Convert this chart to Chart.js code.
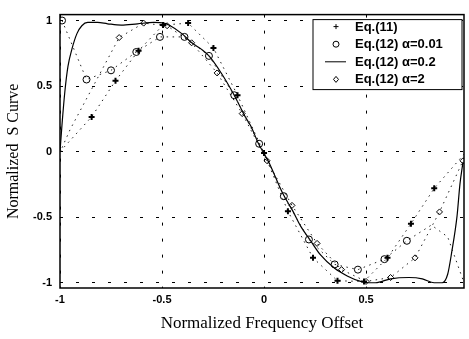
<!DOCTYPE html>
<html>
<head>
<meta charset="utf-8">
<script src="https://cdn.jsdelivr.net/npm/chart.js@4.4.1/dist/chart.umd.min.js"></script>
<style>
    html, body { margin: 0; padding: 0; background: #fff; }
    #wrap { width: 469px; height: 339px; position: relative; }
</style>
</head>
<body>
<div id="wrap"><canvas id="sCurveChart" width="469" height="339"></canvas></div>
<script>
// Eq.(11) - star markers
const eq11X = [-1, -0.845, -0.728, -0.615, -0.495, -0.372, -0.248, -0.13, 0, 0.117, 0.24, 0.36, 0.49, 0.605, 0.72, 0.834, 0.98];
const eq11Y = [0.0, 0.265, 0.54, 0.77, 0.965, 0.98, 0.79, 0.43, -0.01, -0.455, -0.81, -0.985, -0.99, -0.81, -0.55, -0.28, -0.02];

// Eq.(12) alpha = 0.01 - circles
const a001X = [-0.99, -0.87, -0.75, -0.626, -0.51, -0.39, -0.27, -0.146, -0.024, 0.097, 0.22, 0.346, 0.46, 0.59, 0.70, 0.82, 0.90, 0.98];
const a001Y = [1.0, 0.55, 0.62, 0.76, 0.875, 0.875, 0.73, 0.43, 0.06, -0.34, -0.67, -0.86, -0.90, -0.82, -0.68, -0.56, -0.65, -1.0];

// Eq.(12) alpha = 0.2 - solid curve
const a02X = [-1, -0.99, -0.976, -0.961, -0.942, -0.917, -0.893, -0.864, -0.816, -0.767, -0.70, -0.62, -0.54, -0.49, -0.466, -0.403, -0.354, -0.306, -0.27, -0.21, -0.146, -0.092, -0.063, -0.03, 0, 0.02, 0.092, 0.14, 0.18, 0.224, 0.278, 0.346, 0.41, 0.473, 0.51, 0.546, 0.62, 0.71, 0.776, 0.834, 0.873, 0.90, 0.92, 0.946, 0.96, 0.975];
const a02Y = [0.0, 0.21, 0.46, 0.65, 0.78, 0.90, 0.96, 0.985, 0.985, 0.975, 0.965, 0.975, 0.985, 0.98, 0.965, 0.90, 0.83, 0.78, 0.73, 0.60, 0.43, 0.265, 0.19, 0.07, -0.015, -0.07, -0.32, -0.45, -0.57, -0.67, -0.79, -0.89, -0.95, -0.99, -1.0, -1.0, -0.97, -0.96, -0.97, -1.0, -1.0, -0.935, -0.765, -0.49, -0.25, -0.08];

// Eq.(12) alpha = 2 - diamonds
const a2X = [-0.99, -0.95, -0.83, -0.71, -0.59, -0.475, -0.355, -0.23, -0.107, 0.015, 0.137, 0.26, 0.38, 0.50, 0.62, 0.74, 0.86, 0.975];
const a2Y = [0.03, 0.17, 0.52, 0.87, 0.98, 0.96, 0.83, 0.60, 0.29, -0.07, -0.41, -0.70, -0.90, -0.99, -0.96, -0.81, -0.46, -0.07];

const xTicks = [-1, -0.5, 0, 0.5];
const yTicks = [-1, -0.5, 0, 0.5, 1];

const legendLabels = ['Eq.(11)', 'Eq.(12) \u03b1=0.01', 'Eq.(12) \u03b1=0.2', 'Eq.(12) \u03b1=2'];

document.addEventListener('DOMContentLoaded', function() {

    function toPoints(xs, ys) {
        return xs.map((x, i) => ({ x: x, y: ys[i] }));
    }

    // plot frame on all four sides
    const framePlugin = {
        id: 'frame',
        afterDraw(chart) {
            const { ctx, chartArea: a } = chart;
            ctx.save();
            ctx.strokeStyle = '#000';
            ctx.lineWidth = 1.5;
            ctx.strokeRect(a.left, a.top, a.right - a.left, a.bottom - a.top);
            ctx.restore();
        }
    };

    // boxed legend in the upper right corner of the plot
    const boxLegendPlugin = {
        id: 'boxLegend',
        afterDraw(chart) {
            const { ctx, chartArea: a } = chart;
            const left = a.right - 151;
            const top = a.top + 5;
            const w = 149, h = 70;
            ctx.save();
            ctx.fillStyle = '#fff';
            ctx.fillRect(left, top, w, h);
            ctx.strokeStyle = '#000';
            ctx.lineWidth = 1;
            ctx.strokeRect(left, top, w, h);

            const mx = left + 23;
            ctx.font = 'bold 13px "Liberation Sans", Arial, sans-serif';
            ctx.textBaseline = 'middle';
            legendLabels.forEach((label, i) => {
                const cy = top + 7 + i * 17.6;
                ctx.strokeStyle = '#000';
                ctx.fillStyle = '#000';
                ctx.lineWidth = 1;
                if (i === 0) {
                    Chart.helpers.drawPoint(ctx, { pointStyle: 'cross', radius: 2.5, borderWidth: 2 }, mx, cy);
                } else if (i === 1) {
                    ctx.beginPath();
                    ctx.arc(mx, cy, 3, 0, Math.PI * 2);
                    ctx.stroke();
                } else if (i === 2) {
                    ctx.beginPath();
                    ctx.moveTo(mx - 11, cy);
                    ctx.lineTo(mx + 10, cy);
                    ctx.stroke();
                } else {
                    ctx.beginPath();
                    ctx.moveTo(mx, cy - 3);
                    ctx.lineTo(mx + 2.5, cy);
                    ctx.lineTo(mx, cy + 3);
                    ctx.lineTo(mx - 2.5, cy);
                    ctx.closePath();
                    ctx.stroke();
                }
                ctx.fillStyle = '#000';
                ctx.fillText(label, left + 42, cy + 0.5);
            });
            ctx.restore();
        }
    };

    initSCurveChart();

    function initSCurveChart() {
        const ctx = document.getElementById('sCurveChart').getContext('2d');

        if (typeof Chart === 'undefined') return;

        const dotted = [1.5, 4.5];

        new Chart(ctx, {
            type: 'scatter',
            data: {
                datasets: [
                    {
                        label: legendLabels[0],
                        data: toPoints(eq11X, eq11Y),
                        showLine: true,
                        borderColor: '#222',
                        backgroundColor: '#000',
                        borderWidth: 1,
                        borderDash: dotted,
                        pointStyle: 'cross',
                        pointRadius: eq11X.map((x, i) => (i === 0 || i === eq11X.length - 1) ? 0 : 3),
                        pointBorderWidth: 2,
                        pointBorderColor: '#000'
                    },
                    {
                        label: legendLabels[1],
                        data: toPoints(a001X, a001Y),
                        showLine: true,
                        borderColor: '#222',
                        backgroundColor: 'rgba(0,0,0,0)',
                        borderWidth: 1,
                        borderDash: dotted,
                        pointStyle: 'circle',
                        pointRadius: a001X.map((x, i) => i > 14 ? 0 : 3.5),
                        pointBorderWidth: 1,
                        pointBorderColor: '#000'
                    },
                    {
                        label: legendLabels[2],
                        data: toPoints(a02X, a02Y),
                        showLine: true,
                        borderColor: '#000',
                        borderWidth: 1.2,
                        pointRadius: 0,
                        cubicInterpolationMode: 'monotone'
                    },
                    {
                        label: legendLabels[3],
                        data: toPoints(a2X, a2Y),
                        showLine: true,
                        borderColor: '#222',
                        backgroundColor: 'rgba(0,0,0,0)',
                        borderWidth: 1,
                        borderDash: dotted,
                        pointStyle: 'rectRot',
                        pointRadius: a2X.map((x, i) => i < 3 ? 0 : 3),
                        pointBorderWidth: 1,
                        pointBorderColor: '#000'
                    }
                ]
            },
            options: {
                responsive: false,
                animation: false,
                devicePixelRatio: 1,
                layout: { padding: { left: 0, right: 2, top: 5, bottom: 0 } },
                plugins: {
                    legend: { display: false },
                    tooltip: { enabled: false }
                },
                scales: {
                    x: {
                        type: 'linear',
                        min: -1,
                        max: 0.98,
                        afterBuildTicks: scale => { scale.ticks = xTicks.map(v => ({ value: v })); },
                        afterFit: scale => { scale.height = 51; },
                        grid: { color: '#000', lineWidth: 1, drawTicks: false },
                        border: { display: false, dash: [3, 13] },
                        ticks: {
                            padding: 5,
                            color: '#000',
                            font: { family: '"Liberation Sans", Arial, sans-serif', size: 11, weight: 'bold' },
                            callback: v => String(v)
                        },
                        title: {
                            display: true,
                            text: 'Normalized Frequency Offset',
                            color: '#000',
                            padding: { top: 0, bottom: 5 },
                            font: { family: '"Liberation Serif", "Times New Roman", serif', size: 17 }
                        }
                    },
                    y: {
                        type: 'linear',
                        min: -1.04,
                        max: 1.045,
                        afterBuildTicks: scale => { scale.ticks = yTicks.map(v => ({ value: v })); },
                        afterFit: scale => { scale.width = 60; },
                        grid: { color: '#000', lineWidth: 1, drawTicks: false },
                        border: { display: false, dash: [3, 13] },
                        ticks: {
                            padding: 8,
                            color: '#000',
                            font: { family: '"Liberation Sans", Arial, sans-serif', size: 11, weight: 'bold' },
                            callback: v => String(v)
                        },
                        title: {
                            display: true,
                            text: 'Normalized  S Curve',
                            color: '#000',
                            padding: { top: 4, bottom: 0 },
                            font: { family: '"Liberation Serif", "Times New Roman", serif', size: 16 }
                        }
                    }
                }
            },
            plugins: [framePlugin, boxLegendPlugin]
        });
    }
});
</script>
</body>
</html>
